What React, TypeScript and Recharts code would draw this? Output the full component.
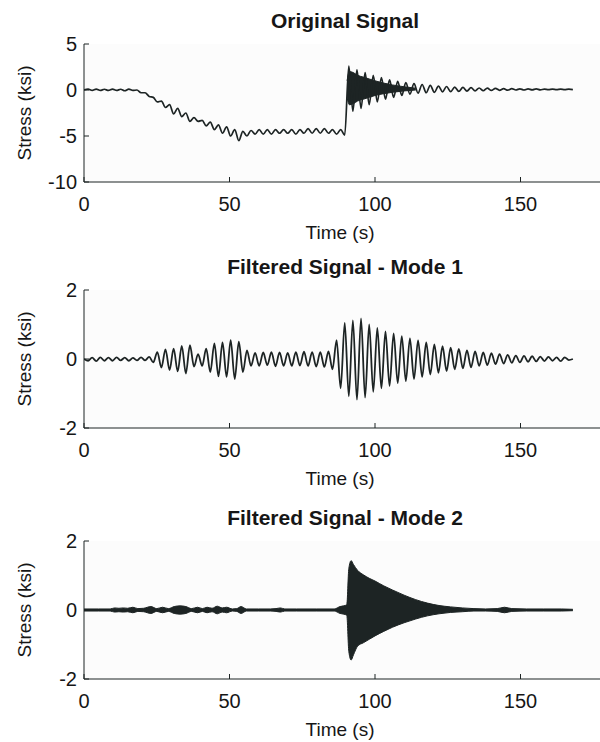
import React from 'react';
import { ComposedChart, Line, Area, XAxis, YAxis, CartesianGrid } from 'recharts';

// sample spacing (s) of the hand-read peak/trough series
const STEP = 1.4;

// Original signal, one value per half cycle (ksi)
const originalSignal = [
  0, 0.1, -0.05, 0.1, -0.05, 0.08, -0.05, 0.1, -0.05, 0.08, -0.08, 0.1, -0.05, 0.0,
  -0.3, -0.3, -0.7, -0.8, -1.3, -1.2, -1.9, -1.6, -2.6, -2.0, -2.9, -2.5, -3.4, -3.0,
  -3.4, -3.3, -3.9, -3.5, -4.3, -3.8, -4.7, -4.0, -5.0, -4.3, -5.5, -4.5,
  -5.0, -4.4, -4.8, -4.3, -4.8, -4.3, -4.8, -4.3, -4.7, -4.3, -4.7, -4.3, -4.8, -4.3,
  -4.7, -4.2, -4.7, -4.2, -4.7, -4.2, -4.7, -4.3, -4.8, -4.3, -4.9,
  2.6, -2.3, 2.2, -2.0, 1.9, -1.6, 1.6, -1.3, 1.35, -1.0, 1.1, -0.8, 0.95, -0.6, 0.8,
  -0.45, 0.7, -0.35, 0.6, -0.3, 0.5, -0.25, 0.42, -0.2, 0.38, -0.18, 0.32, -0.15, 0.28,
  -0.12, 0.25, -0.1, 0.22, -0.08, 0.2, -0.05, 0.18, -0.03, 0.15, -0.02, 0.14, 0.0, 0.13,
  0.0, 0.12, 0.02, 0.12, 0.02, 0.1, 0.03, 0.1, 0.03, 0.1, 0.04, 0.09, 0.05,
];

// high-frequency burst riding on the original signal after the jump
const burstTime = [90.4, 91.2, 92.5, 94, 96, 98, 100, 103, 106, 110, 114];
const burstLow = [-0.8, -1.6, -1.5, -1.2, -1.0, -0.8, -0.6, -0.4, -0.25, -0.1, 0.0];
const burstHigh = [1.0, 2.0, 1.9, 1.6, 1.4, 1.2, 1.0, 0.75, 0.55, 0.35, 0.2];

// Mode 1, one value per half cycle (ksi)
const mode1Signal = [
  0.0, -0.05, 0.04, -0.06, 0.05, -0.05, 0.04, -0.05, 0.05, -0.04, 0.04, -0.05, 0.03, -0.04,
  0.05, -0.04, 0.06, -0.1, 0.2, -0.25, 0.28, -0.32, 0.3, -0.36, 0.38, -0.42, 0.4, -0.22,
  0.14, -0.2, 0.3, -0.38, 0.45, -0.5, 0.48, -0.52, 0.55, -0.58, 0.5, -0.38, 0.25, -0.2,
  0.18, -0.2, 0.19, -0.18, 0.2, -0.21, 0.19, -0.2, 0.18, -0.2, 0.2, -0.19, 0.21, -0.2,
  0.2, -0.22, 0.2, -0.23, 0.22, -0.3, 0.55, -0.85, 1.05, -1.08, 1.12, -1.18, 1.18, -1.12,
  1.0, -0.95, 0.9, -0.85, 0.8, -0.78, 0.74, -0.7, 0.66, -0.64, 0.6, -0.58, 0.54, -0.52,
  0.48, -0.45, 0.42, -0.4, 0.37, -0.35, 0.33, -0.3, 0.29, -0.27, 0.25, -0.24, 0.22, -0.2,
  0.19, -0.18, 0.17, -0.15, 0.14, -0.13, 0.12, -0.11, 0.1, -0.1, 0.09, -0.08, 0.08, -0.07,
  0.07, -0.06, 0.06, -0.05, 0.05, -0.06, 0.05, -0.03, 0.0,
];

// Mode 2 envelope (ksi)
const mode2Time = [
  0, 5, 9, 10.5, 12, 13.5, 15, 16.8, 18.5, 20.5, 23, 25, 27, 29, 31, 33, 35, 37, 39, 40.7,
  42.3, 44, 45.8, 47.5, 49, 51, 52.5, 54, 55.8, 60, 64, 66, 67.5, 69, 73, 80, 86, 88, 89.2, 90.3,
  91.0, 91.8, 92.6, 94, 96, 98, 100, 103, 106, 110, 114, 118, 122, 126, 130, 134, 138, 142, 144.5, 147,
  152, 158, 164, 168,
];
const mode2High = [
  0.03, 0.03, 0.03, 0.06, 0.05, 0.06, 0.05, 0.08, 0.04, 0.05, 0.1, 0.04, 0.08, 0.04, 0.1, 0.12, 0.1, 0.04, 0.08, 0.04,
  0.08, 0.05, 0.11, 0.06, 0.08, 0.03, 0.04, 0.1, 0.03, 0.03, 0.03, 0.04, 0.06, 0.03, 0.03, 0.03, 0.03, 0.1, 0.12, 0.15,
  1.2, 1.43, 1.32, 1.15, 1.02, 0.92, 0.84, 0.7, 0.58, 0.43, 0.3, 0.2, 0.13, 0.09, 0.06, 0.04, 0.03, 0.04, 0.08, 0.04,
  0.03, 0.03, 0.03, 0.02,
];
const mode2Low = [
  -0.03, -0.03, -0.03, -0.06, -0.05, -0.06, -0.05, -0.08, -0.04, -0.05, -0.1, -0.04, -0.08, -0.04, -0.1, -0.12, -0.1, -0.04, -0.08, -0.04,
  -0.08, -0.05, -0.11, -0.06, -0.08, -0.03, -0.04, -0.1, -0.03, -0.03, -0.03, -0.04, -0.06, -0.03, -0.03, -0.03, -0.03, -0.1, -0.12, -0.15,
  -1.2, -1.45, -1.3, -1.05, -0.95, -0.85, -0.75, -0.62, -0.5, -0.37, -0.26, -0.17, -0.11, -0.07, -0.05, -0.03, -0.03, -0.04, -0.08, -0.04,
  -0.03, -0.03, -0.03, -0.02,
];

const xTicks = [0, 50, 100, 150];
const originalTicks = [5, 0, -5, -10];
const modeTicks = [2, 0, -2];

const FONT = "'Liberation Sans', Arial, Helvetica, sans-serif";
const INK = '#1d2424';
const TEXT = '#161616';

const toRows = (vals: number[]) => vals.map((v, i) => ({ t: Math.round(i * STEP * 100) / 100, v }));
const toBand = (times: number[], lo: number[], hi: number[]) =>
  times.map((t, i) => ({ t, band: [lo[i], hi[i]] }));

const originalRows = toRows(originalSignal);
const burstRows = toBand(burstTime, burstLow, burstHigh);
const mode1Rows = toRows(mode1Signal);
const mode2Rows = toBand(mode2Time, mode2Low, mode2High);

const BottomTick = (props: any) => {
  const { x, y, payload } = props;
  return (
    <g>
      <line x1={x} x2={x} y1={y} y2={y - 5} stroke={INK} />
      <text x={x} y={y + 29} textAnchor="middle" fontSize={20} fontFamily={FONT} fill={TEXT}>
        {payload.value}
      </text>
    </g>
  );
};

const TopTick = (props: any) => {
  const { x, y } = props;
  return <line x1={x} x2={x} y1={y} y2={y + 5} stroke={INK} />;
};

const LeftTick = (props: any) => {
  const { x, y, payload } = props;
  return (
    <g>
      <line x1={x} x2={x + 5} y1={y} y2={y} stroke={INK} />
      <text x={x - 7} y={y + 7} textAnchor="end" fontSize={20} fontFamily={FONT} fill={TEXT}>
        {payload.value}
      </text>
    </g>
  );
};

type PanelProps = {
  top: number;
  plotTop: number;
  yDomain: [number, number];
  yTicks: number[];
  children: React.ReactNode;
};

const PLOT_H = 138;
const CHART_W = 680;

const Panel = ({ top, plotTop, yDomain, yTicks, children }: PanelProps) => (
  <div style={{ position: 'absolute', left: 0, top }}>
    <ComposedChart
      width={CHART_W}
      height={plotTop + PLOT_H + 60}
      margin={{ top: plotTop, right: 14, bottom: 0, left: 0 }}
    >
      <CartesianGrid horizontal={false} vertical={false} fill="#fcfcfc" />
      <XAxis
        xAxisId="bottom"
        dataKey="t"
        type="number"
        domain={[0, 200]}
        ticks={xTicks}
        allowDataOverflow
        height={60}
        tickSize={0}
        tickMargin={0}
        tick={(p: any) => <BottomTick {...p} />}
        axisLine={{ stroke: INK }}
        tickLine={false}
      />
      <XAxis
        xAxisId="top"
        orientation="top"
        dataKey="t"
        type="number"
        domain={[0, 200]}
        ticks={xTicks}
        allowDataOverflow
        height={0}
        tickSize={0}
        tickMargin={0}
        tick={(p: any) => <TopTick {...p} />}
        axisLine={{ stroke: INK }}
        tickLine={false}
      />
      <YAxis
        yAxisId="left"
        type="number"
        domain={yDomain}
        ticks={yTicks}
        allowDataOverflow
        width={84}
        tickSize={0}
        tickMargin={0}
        tick={(p: any) => <LeftTick {...p} />}
        axisLine={{ stroke: INK }}
        tickLine={false}
      />
      {children}
    </ComposedChart>
  </div>
);

const Labels = () => {
  const panels = [
    { title: 'Original Signal', plotTop: 44 },
    { title: 'Filtered Signal - Mode 1', plotTop: 290 },
    { title: 'Filtered Signal - Mode 2', plotTop: 541 },
  ];
  return (
    <svg width={600} height={742} style={{ position: 'absolute', left: 0, top: 0, pointerEvents: 'none' }}>
      {panels.map((p) => (
        <g key={p.title} fontFamily={FONT} fill={TEXT}>
          <text x={345} y={p.plotTop - 16} textAnchor="middle" fontSize={21} fontWeight="bold">
            {p.title}
          </text>
          <text x={340} y={p.plotTop + PLOT_H + 57} textAnchor="middle" fontSize={19}>
            Time (s)
          </text>
          <text
            x={31}
            y={p.plotTop + PLOT_H / 2}
            textAnchor="middle"
            fontSize={19}
            transform={`rotate(-90, 31, ${p.plotTop + PLOT_H / 2})`}
          >
            Stress (ksi)
          </text>
        </g>
      ))}
    </svg>
  );
};

const App = () => (
  <div
    style={{
      position: 'absolute',
      left: 0,
      top: 0,
      width: 600,
      height: 742,
      overflow: 'hidden',
      background: '#ffffff',
    }}
  >
    <Panel top={0} plotTop={44} yDomain={[-10, 5]} yTicks={originalTicks}>
      <Area
        data={burstRows}
        xAxisId="bottom"
        yAxisId="left"
        dataKey="band"
        type="monotone"
        stroke={INK}
        strokeWidth={1}
        fill={INK}
        fillOpacity={1}
        isAnimationActive={false}
      />
      <Line
        data={originalRows}
        xAxisId="bottom"
        yAxisId="left"
        dataKey="v"
        type="monotone"
        stroke={INK}
        strokeWidth={1.7}
        dot={false}
        activeDot={false}
        isAnimationActive={false}
      />
    </Panel>
    <Panel top={0} plotTop={290} yDomain={[-2, 2]} yTicks={modeTicks}>
      <Line
        data={mode1Rows}
        xAxisId="bottom"
        yAxisId="left"
        dataKey="v"
        type="monotone"
        stroke={INK}
        strokeWidth={1.8}
        dot={false}
        activeDot={false}
        isAnimationActive={false}
      />
    </Panel>
    <Panel top={0} plotTop={541} yDomain={[-2, 2]} yTicks={modeTicks}>
      <Area
        data={mode2Rows}
        xAxisId="bottom"
        yAxisId="left"
        dataKey="band"
        type="monotone"
        stroke={INK}
        strokeWidth={1}
        fill={INK}
        fillOpacity={1}
        isAnimationActive={false}
      />
    </Panel>
    <Labels />
  </div>
);

export default App;
